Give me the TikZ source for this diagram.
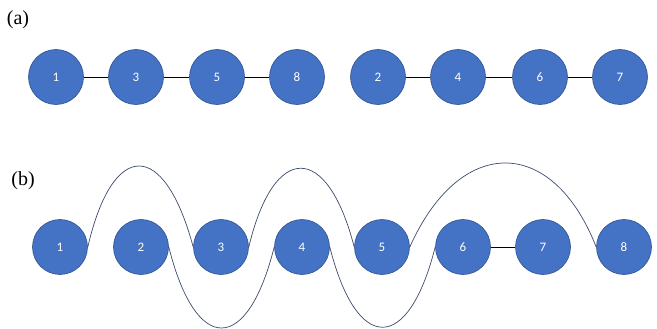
\documentclass[tikz,border=0pt]{standalone}
\usepackage{fontspec}
\setmainfont{Liberation Serif}
\newfontfamily\numfont{Carlito}
\definecolor{nodeblue}{HTML}{4472C4}
\definecolor{nodeedge}{HTML}{2F528F}
\definecolor{curvecol}{HTML}{3B4A6B}
\begin{document}
\begin{tikzpicture}[x=1pt,y=-1pt,
  vtx/.style={circle,fill=nodeblue,draw=nodeedge,line width=0.6pt,minimum size=55pt,inner sep=0pt,text=white,font=\numfont\fontsize{13}{15}\selectfont},
  edge/.style={draw=black,line width=0.8pt},
  arc/.style={draw=curvecol,line width=0.7pt},
  lab/.style={font=\fontsize{20}{24}\selectfont,inner sep=0pt}]
\useasboundingbox (0,0) rectangle (657,329);
% (a)
\node[lab] (la) at (18,20) {(a)};
\node[vtx] (a1) at (56,77) {1};
\node[vtx] (a3) at (136,77) {3};
\node[vtx] (a5) at (217,77) {5};
\node[vtx] (a8) at (297,77) {8};
\node[vtx] (a2) at (378,77) {2};
\node[vtx] (a4) at (458,77) {4};
\node[vtx] (a6) at (540,77) {6};
\node[vtx] (a7) at (620,77) {7};
\draw[edge] (a1) -- (a3);
\draw[edge] (a3) -- (a5);
\draw[edge] (a5) -- (a8);
\draw[edge] (a2) -- (a4);
\draw[edge] (a4) -- (a6);
\draw[edge] (a6) -- (a7);
% (b)
\node[lab] (lb) at (23,181) {(b)};
\node[vtx] (b1) at (60,247) {1};
\node[vtx] (b2) at (141,247) {2};
\node[vtx] (b3) at (221,247) {3};
\node[vtx] (b4) at (302,247) {4};
\node[vtx] (b5) at (382,247) {5};
\node[vtx] (b6) at (463,247) {6};
\node[vtx] (b7) at (543,247) {7};
\node[vtx] (b8) at (624,247) {8};
\draw[edge] (b6) -- (b7);
\draw[arc] (b1.east) .. controls +(25,-108) and +(-29,-108) .. (b3.west);
\draw[arc] (b3.east) .. controls +(25,-105) and +(-27,-105) .. (b5.west);
\draw[arc] (b5.east) .. controls +(50,-112) and +(-44,-112) .. (b8.west);
\draw[arc] (b2.east) .. controls +(27,108) and +(-27,108) .. (b4.west);
\draw[arc] (b4.east) .. controls +(27,107) and +(-27,107) .. (b6.west);
\end{tikzpicture}
\end{document}
